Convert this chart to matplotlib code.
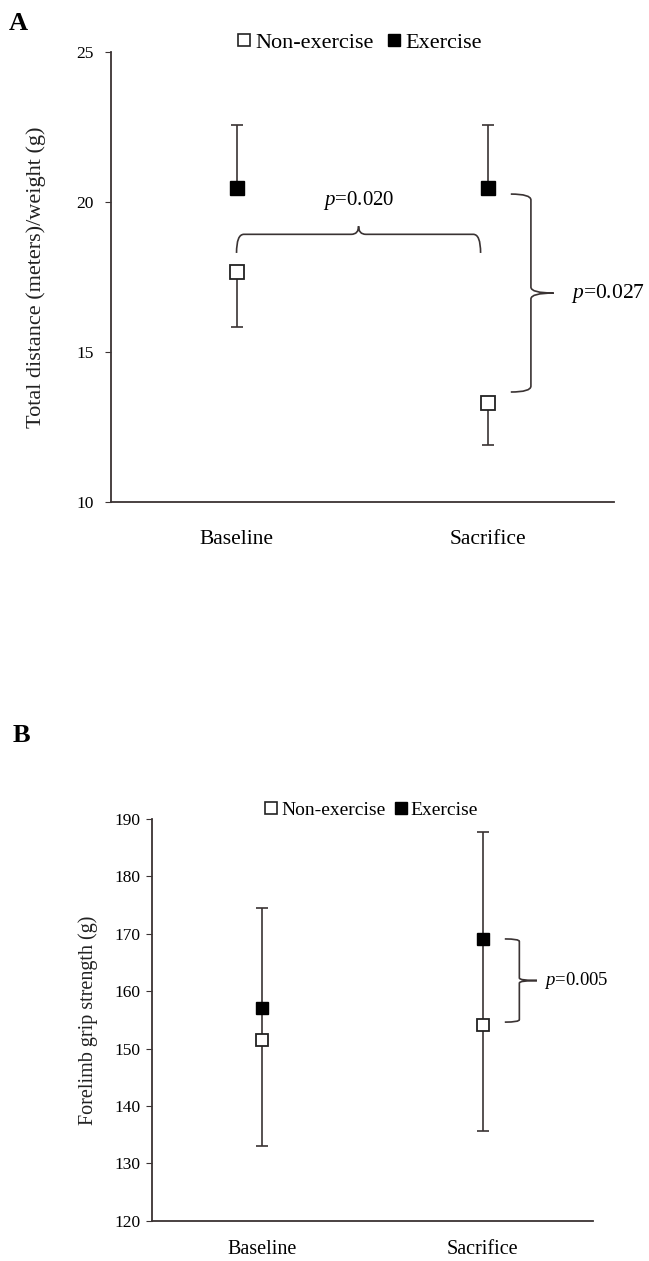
import numpy as np
import matplotlib
matplotlib.use("Agg")
import matplotlib.pyplot as plt
from matplotlib.path import Path
from matplotlib.patches import PathPatch
from matplotlib.lines import Line2D

plt.rcParams['font.family'] = ['Liberation Serif', 'DejaVu Serif']
plt.rcParams['mathtext.fontset'] = 'custom'
plt.rcParams['mathtext.it'] = 'Liberation Serif:italic'
plt.rcParams['mathtext.rm'] = 'Liberation Serif'

# Data
groups = ["Baseline", "Sacrifice"]

# Panel A: total distance (meters)/weight (g)
ex_mean_a = [20.46, 20.46]
ex_top_a = [22.55, 22.55]
non_mean_a = [17.67, 13.3]
non_bottom_a = [15.85, 11.92]
yticks_a = [10, 15, 20, 25]

# Panel B: forelimb grip strength (g)
ex_mean_b = [157.0, 169.1]
ex_top_b = [174.5, 187.7]
non_mean_b = [151.4, 154.1]
non_bottom_b = [133.0, 135.6]
yticks_b = [120, 130, 140, 150, 160, 170, 180, 190]

LC = '#3a3333'


def hbrace(ax, x0, x1, y, drop, tip, lw=1.2):
    """Horizontal curly brace, ends pointing down, tip pointing up."""
    xm = (x0 + x1) / 2
    w = (x1 - x0) * 0.03
    verts = [(x0, y - drop), (x0, y), (x0 + w, y),
             (xm - w, y), (xm, y), (xm, y + tip),
             (xm, y), (xm + w, y),
             (x1 - w, y), (x1, y), (x1, y - drop)]
    codes = [Path.MOVETO, Path.CURVE3, Path.CURVE3,
             Path.LINETO, Path.CURVE3, Path.CURVE3,
             Path.CURVE3, Path.CURVE3,
             Path.LINETO, Path.CURVE3, Path.CURVE3]
    ax.add_patch(PathPatch(Path(verts, codes), fill=False, ec=LC, lw=lw,
                           clip_on=False))


def vbrace(ax, x, y0, y1, end, tip, lw=1.2):
    """Vertical curly brace, ends pointing left, tip pointing right."""
    ym = (y0 + y1) / 2
    h = (y0 - y1) * 0.03
    verts = [(x - end, y0), (x, y0), (x, y0 - h),
             (x, ym + h), (x, ym), (x + tip, ym),
             (x, ym), (x, ym - h),
             (x, y1 + h), (x, y1), (x - end, y1)]
    codes = [Path.MOVETO, Path.CURVE3, Path.CURVE3,
             Path.LINETO, Path.CURVE3, Path.CURVE3,
             Path.CURVE3, Path.CURVE3,
             Path.LINETO, Path.CURVE3, Path.CURVE3]
    ax.add_patch(PathPatch(Path(verts, codes), fill=False, ec=LC, lw=lw,
                           clip_on=False))


def draw_panel(ax, ex_mean, ex_top, non_mean, non_bottom, yticks,
               ylabel, fs_tick, fs_lab, fs_x, ms, connect=False):
    x = np.arange(1, len(groups) + 1)

    # one-sided error bars: up for exercise, down for non-exercise
    ax.vlines(x, ex_mean, ex_top, color=LC, lw=1.2, zorder=1)
    ax.vlines(x, non_bottom, non_mean, color=LC, lw=1.2, zorder=1)
    if connect:
        ax.vlines(x, non_mean, ex_mean, color=LC, lw=1.2, zorder=1)
    ax.plot(x, ex_top, '_', ms=9, mew=1.2, color=LC, ls='none', zorder=1)
    ax.plot(x, non_bottom, '_', ms=9, mew=1.2, color=LC, ls='none', zorder=1)

    ax.plot(x, non_mean, 's', ms=ms, mfc='white', mec='#222', mew=1.3,
            ls='none', zorder=3)
    ax.plot(x, ex_mean, 's', ms=ms, mfc='black', mec='black',
            ls='none', zorder=3)

    ax.set_xlim(0.5, 2.5)
    ax.set_ylim(yticks[0], yticks[-1])
    ax.set_yticks(yticks)
    ax.set_xticks(x)
    ax.set_xticklabels(groups, fontsize=fs_x)
    for s in ['top', 'right']:
        ax.spines[s].set_visible(False)
    for s in ['left', 'bottom']:
        ax.spines[s].set_color(LC)
        ax.spines[s].set_linewidth(1.3)
    ax.tick_params(axis='y', labelsize=fs_tick, length=4, color=LC, pad=5)
    ax.tick_params(axis='x', length=0)
    ax.set_ylabel(ylabel, fontsize=fs_lab, color='#222')

    handles = [Line2D([], [], marker='s', ls='none', ms=ms * 0.95,
                      mfc='white', mec='#222', mew=1.2),
               Line2D([], [], marker='s', ls='none', ms=ms * 0.95,
                      mfc='black', mec='black')]
    return handles


fig = plt.figure(figsize=(6.49, 12.61), dpi=100)

# Panel A
axA = fig.add_axes([0.1706, 0.6017, 0.7754, 0.3573])
hA = draw_panel(axA, ex_mean_a, ex_top_a, non_mean_a, non_bottom_a, yticks_a,
                "Total distance (meters)/weight (g)", 12.5, 16, 15.5, 9.5)
axA.tick_params(axis='y', pad=8)
axA.tick_params(axis='x', pad=20)
axA.yaxis.labelpad = 22
axA.legend(hA, ["Non-exercise", "Exercise"], ncol=2, frameon=False,
           loc='center', bbox_to_anchor=(0.49, 1.021), fontsize=16,
           handletextpad=0.0, columnspacing=0.4, handlelength=1.0,
           borderaxespad=0)
hbrace(axA, 1.0, 1.97, non_mean_a[0] + 1.25, 0.62, 0.27)
axA.text(1.485, 20.05, r"$p$=0.020", ha='center', va='center', fontsize=15)
vbrace(axA, 2.17, ex_mean_a[1] - 0.2, non_mean_a[1] + 0.37, 0.08, 0.09)
axA.text(2.33, (ex_mean_a[1] - 0.2 + non_mean_a[1] + 0.37) / 2, r"$p$=0.027",
         ha='left', va='center', fontsize=15.5)

# Panel B
axB = fig.add_axes([0.2342, 0.0320, 0.6795, 0.3185])
hB = draw_panel(axB, ex_mean_b, ex_top_b, non_mean_b, non_bottom_b, yticks_b,
                "Forelimb grip strength (g)", 12.5, 14.5, 14.5, 9,
                connect=True)
axB.tick_params(axis='y', pad=4)
axB.tick_params(axis='x', pad=14)
axB.yaxis.labelpad = 12
axB.legend(hB, ["Non-exercise", "Exercise"], ncol=2, frameon=False,
           loc='center', bbox_to_anchor=(0.494, 1.022), fontsize=14,
           handletextpad=0.0, columnspacing=0.3, handlelength=1.0,
           borderaxespad=0)
vbrace(axB, 2.166, ex_mean_b[1], non_mean_b[1] + 0.5, 0.066, 0.08)
axB.text(2.28, (ex_mean_b[1] + non_mean_b[1] + 0.5) / 2, r"$p$=0.005",
         ha='left', va='center', fontsize=13.5)

# Panel letters
fig.text(0.014, 0.9815, "A", fontsize=19, fontweight='bold', va='center')
fig.text(0.019, 0.417, "B", fontsize=19, fontweight='bold', va='center')

fig.savefig("out.png", dpi=100, facecolor='white')
